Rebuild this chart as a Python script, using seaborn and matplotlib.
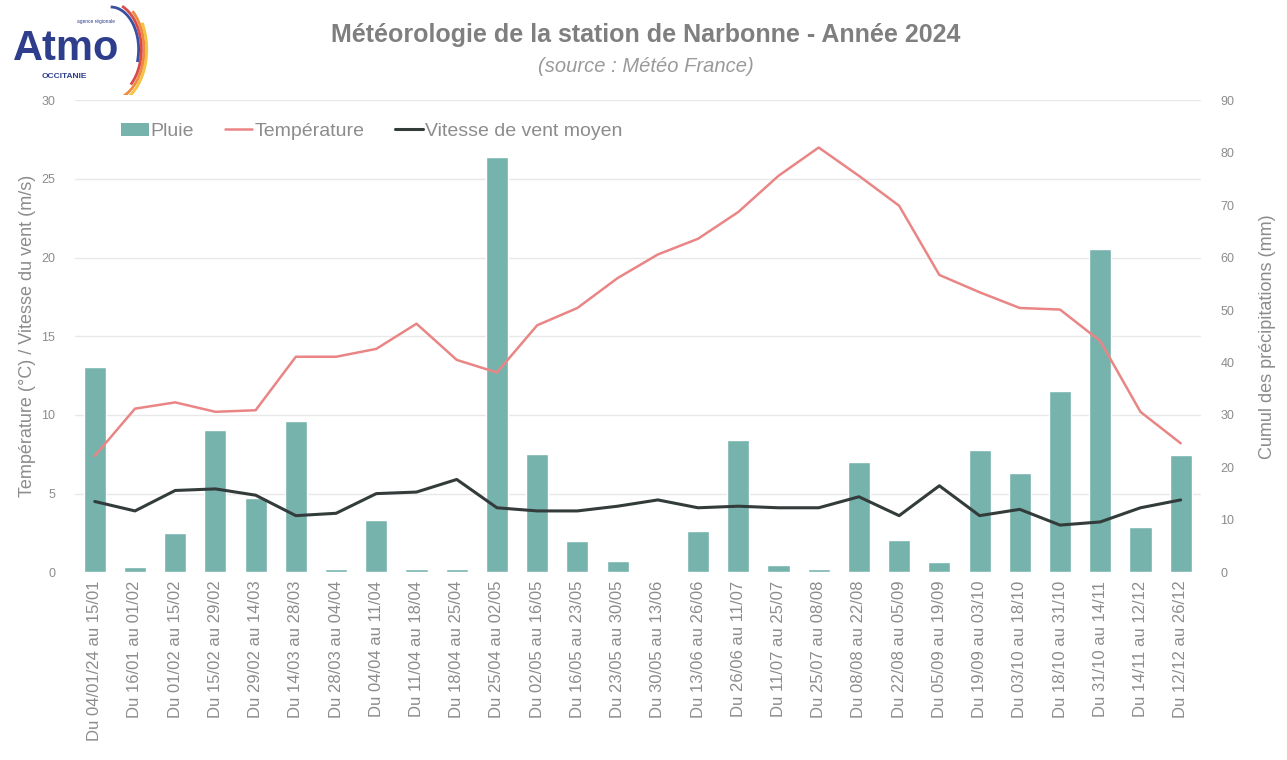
import matplotlib
matplotlib.use("Agg")
import matplotlib.pyplot as plt
import seaborn as sns
import pandas as pd
import numpy as np
from matplotlib.patches import Arc, Patch
from matplotlib.lines import Line2D

# données
periodes = [
    "Du 04/01/24 au 15/01", "Du 16/01 au 01/02", "Du 01/02 au 15/02", "Du 15/02 au 29/02",
    "Du 29/02 au 14/03", "Du 14/03 au 28/03", "Du 28/03 au 04/04", "Du 04/04 au 11/04",
    "Du 11/04 au 18/04", "Du 18/04 au 25/04", "Du 25/04 au 02/05", "Du 02/05 au 16/05",
    "Du 16/05 au 23/05", "Du 23/05 au 30/05", "Du 30/05 au 13/06", "Du 13/06 au 26/06",
    "Du 26/06 au 11/07", "Du 11/07 au 25/07", "Du 25/07 au 08/08", "Du 08/08 au 22/08",
    "Du 22/08 au 05/09", "Du 05/09 au 19/09", "Du 19/09 au 03/10", "Du 03/10 au 18/10",
    "Du 18/10 au 31/10", "Du 31/10 au 14/11", "Du 14/11 au 12/12", "Du 12/12 au 26/12",
]
pluie = [39.1, 1.1, 7.4, 27.1, 14.1, 28.8, 0.6, 9.9, 0.6, 0.6, 79.1, 22.5, 5.9, 2.1,
         0.0, 7.8, 25.2, 1.3, 0.6, 21.0, 6.1, 1.9, 23.3, 18.9, 34.5, 61.6, 8.6, 22.3]
temperature = [7.4, 10.4, 10.8, 10.2, 10.3, 13.7, 13.7, 14.2, 15.8, 13.5, 12.7, 15.7,
               16.8, 18.7, 20.2, 21.2, 22.9, 25.2, 27.0, 25.2, 23.3, 18.9, 17.8, 16.8,
               16.7, 14.7, 10.2, 8.2]
vent = [4.5, 3.9, 5.2, 5.3, 4.9, 3.6, 3.75, 5.0, 5.1, 5.9, 4.1, 3.9, 3.9, 4.2, 4.6,
        4.1, 4.2, 4.1, 4.1, 4.8, 3.6, 5.5, 3.6, 4.0, 3.0, 3.2, 4.1, 4.6]

df = pd.DataFrame({"Periode": periodes, "Pluie": pluie,
                   "Temperature": temperature, "Vent": vent})
df["idx"] = np.arange(len(df))

sns.set_theme(style="white")
plt.rcParams["font.family"] = ["Liberation Sans", "DejaVu Sans"]

GRIS = "#8c8c8c"
C_PLUIE = "#76b3ad"
C_TEMP = "#ea8585"
C_VENT = "#333b3b"

fig = plt.figure(figsize=(12.87, 7.60), dpi=100)
ax = fig.add_axes([0.058, 0.247, 0.875, 0.621])
ax2 = ax.twinx()

# barres de pluie sur l'axe de droite
sns.barplot(data=df, x="Periode", y="Pluie", ax=ax2, color=C_PLUIE,
            width=0.55, saturation=1, order=periodes, zorder=2)
ax2.set_ylim(0, 90)
ax2.set_yticks(range(0, 91, 10))
# grille alignée sur l'axe de gauche (tous les 5 °C = 15 mm), sous les barres
ax2.yaxis.remove_overlapping_locs = False
ax2.set_yticks(np.arange(15, 91, 15), minor=True)
ax2.tick_params(axis="y", which="minor", length=0, labelright=False)
ax2.grid(axis="y", which="minor", color="#e8e8e8", linewidth=1)
ax2.grid(axis="y", which="major", visible=False)
ax2.grid(axis="x", visible=False)
ax2.set_axisbelow(True)

# lignes sur l'axe de gauche
sns.lineplot(data=df, x="idx", y="Temperature", ax=ax, color=C_TEMP, linewidth=1.8)
sns.lineplot(data=df, x="idx", y="Vent", ax=ax, color=C_VENT, linewidth=2.2)
ax.set_ylim(0, 30)
ax.set_yticks(range(0, 31, 5))
ax.grid(False)

ax.set_zorder(ax2.get_zorder() + 1)
ax.patch.set_visible(False)

for a in (ax, ax2):
    for s in a.spines.values():
        s.set_visible(False)
    a.tick_params(axis="y", which="major", colors=GRIS, labelsize=9, length=0, pad=14)

ax.set_xlim(-0.5, len(df) - 0.5)
ax.set_xticks(range(len(df)))
ax.set_xticklabels(periodes, rotation=90, fontsize=12, color=GRIS)
ax.tick_params(axis="x", length=0, pad=6, labelbottom=True)
ax.set_xlabel("")
ax2.set_xlabel("")

ax.set_ylabel("Température (°C) / Vitesse du vent (m/s)", color=GRIS, fontsize=13, labelpad=4)
ax2.set_ylabel("Cumul des précipitations (mm)", color=GRIS, fontsize=13, labelpad=18)

handles = [
    Patch(facecolor=C_PLUIE, edgecolor="none"),
    Line2D([0], [0], color=C_TEMP, linewidth=1.8),
    Line2D([0], [0], color=C_VENT, linewidth=2.2),
]
leg = ax.legend(handles, ["Pluie", "Température", "Vitesse de vent moyen"],
                loc="upper left", bbox_to_anchor=(0.026, 0.99), ncol=3, frameon=False,
                fontsize=14, handlelength=1.4, handletextpad=0.1, columnspacing=1.6)
for t in leg.get_texts():
    t.set_color(GRIS)

# titres
fig.text(0.502, 0.954, "Météorologie de la station de Narbonne - Année 2024",
         ha="center", va="center", fontsize=18, fontweight="bold", color="#7f7f7f")
fig.text(0.502, 0.913, "(source : Météo France)", ha="center", va="center",
         fontsize=14.5, style="italic", color="#9a9a9a")

# logo Atmo Occitanie (approximation)
fig.text(0.010, 0.935, "Atmo", ha="left", va="center", fontsize=30,
         fontweight="bold", color="#2e3e8c")
fig.text(0.032, 0.900, "OCCITANIE", ha="left", va="center", fontsize=6,
         fontweight="bold", color="#2e3e8c")
fig.text(0.060, 0.972, "agence régionale", ha="left", va="center", fontsize=3.5,
         color="#2e3e8c")
lax = fig.add_axes([0.065, 0.875, 0.07, 0.12])
lax.set_xlim(-1, 1)
lax.set_ylim(-1, 1)
lax.axis("off")
for r, c, t1, t2 in [(1.60, "#f5c342", -85, 40), (1.48, "#f08a3c", -75, 60),
                     (1.36, "#d84b4b", -60, 75), (1.24, "#3b4fa0", -25, 90)]:
    lax.add_patch(Arc((-0.4, 0.0), r, r * 1.5, theta1=t1, theta2=t2, color=c, linewidth=2))

fig.savefig("out.png", dpi=100)
